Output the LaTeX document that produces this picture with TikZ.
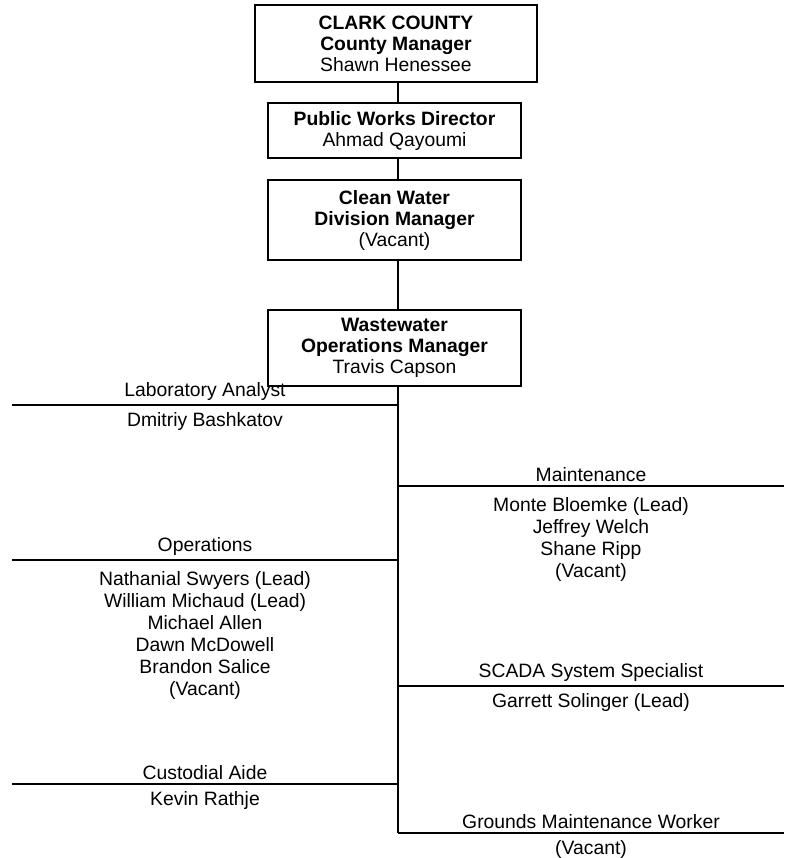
\documentclass[tikz,border=0pt]{standalone}
\usepackage{fontspec}
\setmainfont{Liberation Sans}
\usetikzlibrary{positioning}

\begin{document}
\begin{tikzpicture}[x=0.75pt,y=-0.75pt]
    \tikzstyle{box}=[draw,line width=1.2pt,fill=white,align=center,inner sep=0pt,font=\fontsize{14.5}{15.75}\selectfont]
    \tikzstyle{branch}=[line width=1.2pt,color=black]
    \tikzstyle{group title}=[above=3pt,inner sep=0pt,font=\fontsize{14.5}{16}\selectfont]
    \tikzstyle{group names}=[below=5pt,inner sep=0pt,align=center,font=\fontsize{14.5}{16.5}\selectfont]
    \tikzstyle{group list}=[style=group names,below=8pt]

    \useasboundingbox (0,0) rectangle (793,858);

    % Manager boxes
    \node[box,minimum width=211.5pt,minimum height=57.75pt] (county) at (396,43.5)
        {\textbf{CLARK COUNTY}\\\textbf{County Manager}\\Shawn Henessee};
    \node[box,minimum width=189.75pt,minimum height=41.25pt] (pwd) at (394.5,130.5)
        {\textbf{Public Works Director}\\Ahmad Qayoumi};
    \node[box,minimum width=189.75pt,minimum height=60pt] (cwd) at (394.5,220)
        {\textbf{Clean Water}\\\textbf{Division Manager}\\(Vacant)};
    \node[box,minimum width=189.75pt,minimum height=57pt] (wom) at (394.5,348)
        {\textbf{Wastewater}\\\textbf{Operations Manager}\\Travis Capson};

    \coordinate (spine end) at (398,833);

    % Spine
    \draw[style=branch] (county.south -| spine end) -- (pwd.north -| spine end);
    \draw[style=branch] (pwd.south -| spine end) -- (cwd.north -| spine end);
    \draw[style=branch] (cwd.south -| spine end) -- (wom.north -| spine end);
    \draw[style=branch] (wom.south -| spine end) -- (spine end);

    % Left branches
    \coordinate (lab) at (12,405);
    \coordinate (ops) at (12,560);
    \coordinate (cust) at (12,784);
    \draw[style=branch] (lab) -- node[style=group title] (lab title) {Laboratory Analyst}
                                 node[style=group names] (lab names) {Dmitriy Bashkatov} (lab -| spine end);
    \draw[style=branch] (ops) -- node[style=group title] (ops title) {Operations}
                                 node[style=group list] (ops names) {Nathanial Swyers (Lead)\\William Michaud (Lead)\\Michael Allen\\Dawn McDowell\\Brandon Salice\\(Vacant)} (ops -| spine end);
    \draw[style=branch] (cust) -- node[style=group title] (cust title) {Custodial Aide}
                                  node[style=group names] (cust names) {Kevin Rathje} (cust -| spine end);

    % Right branches
    \coordinate (maint) at (784,486);
    \coordinate (scada) at (784,686);
    \coordinate (grounds) at (784,833);
    \draw[style=branch] (maint -| spine end) -- node[style=group title] (maint title) {Maintenance}
                                 node[style=group list] (maint names) {Monte Bloemke (Lead)\\Jeffrey Welch\\Shane Ripp\\(Vacant)} (maint);
    \draw[style=branch] (scada -| spine end) -- node[style=group title] (scada title) {SCADA System Specialist}
                                 node[style=group names] (scada names) {Garrett Solinger (Lead)} (scada);
    \draw[style=branch] (spine end) -- node[style=group title] (grounds title) {Grounds Maintenance Worker}
                                 node[style=group names] (grounds names) {(Vacant)} (grounds);

\end{tikzpicture}
\end{document}
